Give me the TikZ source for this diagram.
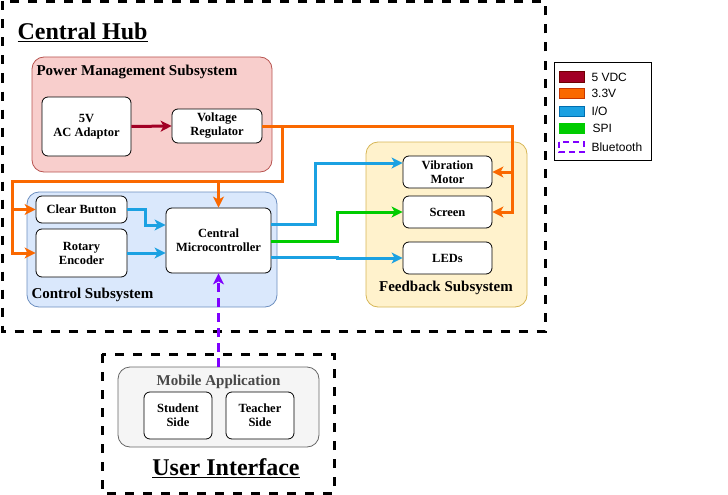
\documentclass[tikz,border=0pt]{standalone}
\usepackage{fontspec}
\setmainfont{Liberation Serif}
\setsansfont{Liberation Sans}
\usetikzlibrary{arrows.meta,calc}
\definecolor{pmfill}{HTML}{F8CECC}\definecolor{pmline}{HTML}{B85450}
\definecolor{csfill}{HTML}{DAE8FC}\definecolor{csline}{HTML}{6C8EBF}
\definecolor{fbfill}{HTML}{FFF2CC}\definecolor{fbline}{HTML}{D6B656}
\definecolor{mbfill}{HTML}{F5F5F5}\definecolor{mbline}{HTML}{666666}
\definecolor{cred}{HTML}{A20025}\definecolor{credd}{HTML}{6F0000}
\definecolor{corange}{HTML}{FA6800}\definecolor{corangd}{HTML}{C73500}
\definecolor{cblue}{HTML}{1BA1E2}\definecolor{cblued}{HTML}{006EAF}
\definecolor{cgreen}{HTML}{00CC00}
\definecolor{cpurple}{HTML}{7F00FF}
\tikzset{
  hubline/.style={line width=3pt,dash pattern=on 9pt off 9pt},
  container/.style={draw,rounded corners=12pt,line width=0.8pt},
  block/.style={draw,fill=white,rounded corners=6pt,line width=0.8pt,align=center,
    font=\fontsize{12.5}{14}\selectfont\bfseries,inner sep=1pt},
  wire/.style={line width=3pt,-{Stealth[length=11pt,width=11pt,inset=3pt]}},
  title/.style={font=\fontsize{24}{26}\selectfont\bfseries},
  sub/.style={font=\fontsize{15}{16}\selectfont\bfseries},
  legtext/.style={font=\sffamily\fontsize{12}{13}\selectfont,anchor=west},
  swatch/.style={line width=1pt}
}
\begin{document}
\begin{tikzpicture}[x=1pt,y=-1pt]
\useasboundingbox (0,0) rectangle (728,495);
% Central hub frame
\draw[hubline] (2,1.5) rectangle (545,331);
\node[title,anchor=west] (hubt) at (14,32) {\underline{Central Hub}};
% Containers
\draw[container,fill=pmfill,draw=pmline] (32,57) rectangle (272,172);
\node[sub,anchor=west] (pmt) at (33,72) {Power Management Subsystem};
\draw[container,fill=csfill,draw=csline] (27,192) rectangle (277,307);
\node[sub,anchor=west] (cst) at (28,295) {Control Subsystem};
\draw[container,fill=fbfill,draw=fbline] (366,142) rectangle (527,307);
\node[sub] (fbt) at (446,288) {Feedback Subsystem};
% Blocks
\node[block,minimum width=89pt,minimum height=59pt] (ac) at (86.5,126.5) {5V\\AC Adaptor};
\node[block,minimum width=90pt,minimum height=34pt] (reg) at (217,126) {Voltage\\Regulator};
\node[block,minimum width=91pt,minimum height=27pt] (clr) at (81.5,209.5) {Clear Button};
\node[block,minimum width=91pt,minimum height=48pt] (rot) at (81.5,253) {Rotary\\Encoder};
\node[block,minimum width=105pt,minimum height=65pt] (mcu) at (218.5,240.5) {Central\\Microcontroller};
\node[block,minimum width=89pt,minimum height=32pt] (vib) at (447.5,172) {Vibration\\Motor};
\node[block,minimum width=89pt,minimum height=32pt] (scr) at (447.5,212) {Screen};
\node[block,minimum width=89pt,minimum height=32pt] (led) at (447.5,258) {LEDs};
% User interface
\draw[hubline] (102,354) rectangle (334,493);
\draw[container,fill=mbfill,draw=mbline] (118,367) rectangle (319,447);
\coordinate (mobtop) at (218.5,367);
\node[sub,text=black!72] (mbt) at (218.5,382) {Mobile Application};
\node[block,minimum width=68pt,minimum height=47pt] (stu) at (178,415.5) {Student\\Side};
\node[block,minimum width=68pt,minimum height=47pt] (tea) at (260,415.5) {Teacher\\Side};
\node[title] (uit) at (226,468) {\underline{User Interface}};
% Power wires
\draw[wire,cred] (ac.east) -- (reg.west);
\coordinate (oR) at (512,126);
\coordinate (oL) at (12,181);
\draw[wire,corange] (reg.east) -- (oR) |- (vib.east);
\draw[wire,corange] (oR) |- (scr.east);
\draw[wire,corange] (reg.east) -| (282,181) -- (218.5,181) -- (mcu.north);
\draw[wire,corange] (218.5,181) -- (oL) |- (clr.west);
\draw[wire,corange] (oL) |- (rot.west);
% IO wires
\draw[wire,cblue] (clr.east) -- (145,209.5) |- (mcu.west |- 0,225);
\draw[wire,cblue] (rot.east) -- (rot.east -| mcu.west);
\draw[wire,cblue] (mcu.east |- 0,224) -- (315,224) |- (vib.west |- 0,163);
\draw[wire,cgreen] (mcu.east |- 0,241) -- (337,241) |- (scr.west);
\draw[wire,cblue] (mcu.east |- 0,257) -- (337,257) -- (337,258) -- (led.west);
% Bluetooth
\draw[line width=3pt,cpurple,dash pattern=on 9pt off 6pt,-{Stealth[length=11pt,width=11pt,inset=3pt]}] (mobtop) -- (mcu.south);
% Legend
\draw[line width=0.8pt] (554,62) rectangle (651,160);
\draw[swatch,fill=cred,draw=credd] (559,72) rectangle (584,82);
\node[legtext] (l1) at (588,77) {5 VDC};
\draw[swatch,fill=corange,draw=corangd] (559,88) rectangle (584,98);
\node[legtext] (l2) at (588,93) {3.3V};
\draw[swatch,fill=cblue,draw=cblued] (559,106) rectangle (584,116);
\node[legtext] (l3) at (588,111) {I/O};
\draw[swatch,fill=cgreen,draw=cgreen] (559,123) rectangle (584,133);
\node[legtext] (l4) at (589,128) {SPI};
\draw[line width=2pt,draw=cpurple,dash pattern=on 6pt off 4pt] (559,142) rectangle (584,152);
\node[legtext] (l5) at (588,147) {Bluetooth};
\end{tikzpicture}
\end{document}
